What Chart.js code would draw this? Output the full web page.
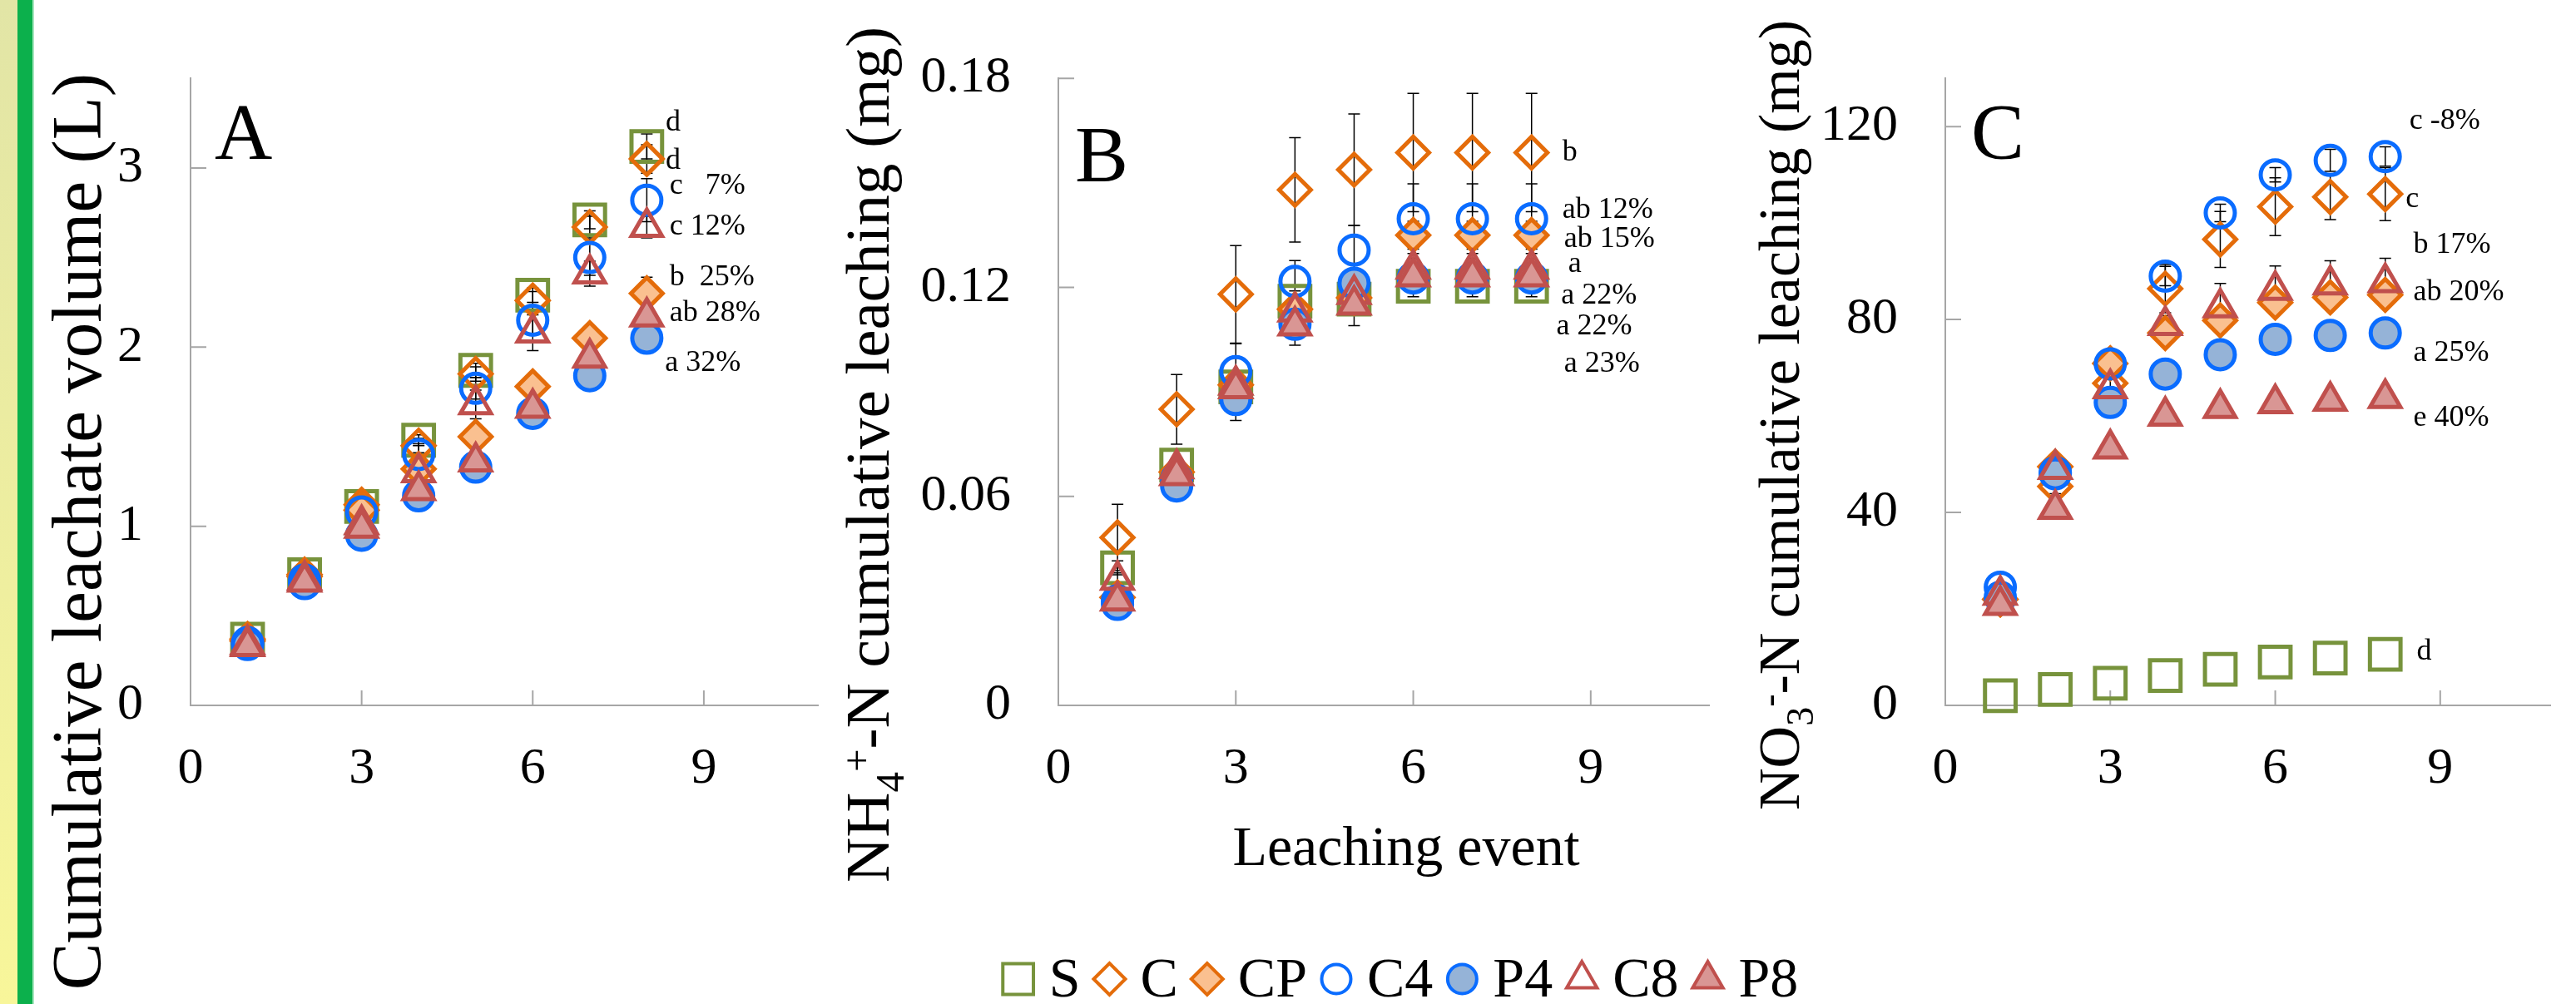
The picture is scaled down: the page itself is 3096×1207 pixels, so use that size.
<!DOCTYPE html>
<html>
<head>
<meta charset="utf-8">
<title>Cumulative leaching</title>
<script src="https://cdn.jsdelivr.net/npm/chart.js@4.4.1/dist/chart.umd.min.js"></script>
<style>
  html, body { margin: 0; padding: 0; background: #fff; }
  #page { position: relative; width: 3096px; height: 1207px; overflow: hidden; background: #fff; }
  .stripe-y { position: absolute; left: 0; top: 0; width: 21px; height: 1207px; background: linear-gradient(#e2e5a6, #f8f69a); }
  .stripe-g { position: absolute; left: 21px; top: 0; width: 18px; height: 1207px; background: #0cb04c; border-right: 2px solid #a8e6bf; }
  canvas { position: absolute; left: 0; top: 0; }
</style>
</head>
<body>
<div id="page">
  <div class="stripe-y"></div>
  <div class="stripe-g"></div>
  <canvas id="chartA" width="3096" height="1207"></canvas>
  <canvas id="chartB" width="3096" height="1207"></canvas>
  <canvas id="chartC" width="3096" height="1207"></canvas>
</div>
<script>
// ---- data ----
const events = [1, 2, 3, 4, 5, 6, 7, 8];
const seriesNames = ['S', 'C', 'CP', 'C4', 'P4', 'C8', 'P8'];
const xTicks = [0, 3, 6, 9];
const xTitle = 'Leaching event';

// A - cumulative leachate volume (L)
const volTicks = [0, 1, 2, 3];
const volS  = [0.37, 0.73, 1.11, 1.48, 1.87, 2.29, 2.71, 3.12];
const volC  = [0.37, 0.73, 1.12, 1.45, 1.85, 2.26, 2.67, 3.05];
const volCP = [0.36, 0.72, 1.09, 1.32, 1.50, 1.78, 2.05, 2.30];
const volC4 = [0.35, 0.70, 1.08, 1.40, 1.77, 2.15, 2.50, 2.82];
const volP4 = [0.34, 0.68, 0.95, 1.17, 1.33, 1.63, 1.84, 2.05];
const volC8 = [0.34, 0.70, 1.01, 1.30, 1.68, 2.08, 2.41, 2.67];
const volP8 = [0.33, 0.69, 0.99, 1.20, 1.36, 1.66, 1.94, 2.17];
const volErrS  = [0, 0, 0, 0.03, 0.04, 0.04, 0.05, 0.07];
const volErrC  = [0, 0, 0, 0.04, 0.04, 0.05, 0.06, 0.08];
const volErrCP = [0.01, 0.01, 0.02, 0.02, 0.03, 0.03, 0.04, 0.09];
const volErrC4 = [0, 0, 0, 0.06, 0.06, 0.08, 0.10, 0.12];
const volErrP4 = [0.01, 0.01, 0.02, 0.02, 0.02, 0.03, 0.03, 0.04];
const volErrC8 = [0, 0, 0, 0.04, 0.08, 0.10, 0.07, 0.06];
const volErrP8 = [0.01, 0.01, 0.02, 0.02, 0.02, 0.03, 0.03, 0.03];
const volNotes = ['d', 'd', 'c   7%', 'c 12%', 'b  25%', 'ab 28%', 'a 32%'];
const volNoteX = [8.33, 8.33, 8.40, 8.40, 8.40, 8.40, 8.32];
const volNoteY = [3.25, 3.04, 2.90, 2.67, 2.39, 2.19, 1.91];

// B - NH4+-N cumulative leaching (mg)
const nhTicks = [0, 0.06, 0.12, 0.18];
const nhS  = [0.0395, 0.069, 0.0914, 0.116, 0.1166, 0.1203, 0.1203, 0.1203];
const nhC  = [0.0482, 0.085, 0.118, 0.148, 0.1538, 0.1587, 0.1587, 0.1587];
const nhCP = [0.031, 0.067, 0.092, 0.1137, 0.117, 0.135, 0.135, 0.135];
const nhC4 = [0.030, 0.065, 0.0958, 0.1217, 0.1307, 0.1397, 0.1397, 0.1397];
const nhP4 = [0.029, 0.063, 0.0878, 0.1094, 0.1212, 0.1227, 0.1227, 0.1227];
const nhC8 = [0.036, 0.068, 0.092, 0.113, 0.118, 0.1253, 0.1253, 0.1253];
const nhP8 = [0.030, 0.066, 0.091, 0.109, 0.115, 0.1231, 0.1231, 0.1231];
const nhErrS  = [0.002, 0.002, 0.002, 0.003, 0.003, 0.003, 0.003, 0.003];
const nhErrC  = [0.0095, 0.010, 0.014, 0.015, 0.016, 0.017, 0.017, 0.017];
const nhErrCP = [0.002, 0.003, 0.003, 0.004, 0.004, 0.004, 0.004, 0.004];
const nhErrC4 = [0.002, 0.003, 0.008, 0.006, 0.007, 0.010, 0.010, 0.010];
const nhErrP4 = [0.002, 0.002, 0.006, 0.006, 0.003, 0.003, 0.003, 0.003];
const nhErrC8 = [0.002, 0.002, 0.003, 0.003, 0.003, 0.003, 0.003, 0.003];
const nhErrP8 = [0.002, 0.002, 0.003, 0.003, 0.006, 0.003, 0.003, 0.003];
const nhNotes = ['b', 'ab 12%', 'ab 15%', 'a', 'a 22%', 'a 22%', 'a 23%'];
const nhNoteX = [8.52, 8.52, 8.55, 8.62, 8.50, 8.42, 8.55];
const nhNoteY = [0.1586, 0.1422, 0.1339, 0.1267, 0.1177, 0.1087, 0.098];

// C - NO3--N cumulative leaching (mg)
const noTicks = [0, 40, 80, 120];
const noS  = [2.0, 3.3, 4.6, 6.2, 7.5, 9.0, 9.8, 10.6];
const noC  = [22.0, 45.4, 66.8, 86.4, 96.6, 103.4, 105.4, 106.0];
const noCP = [22.0, 49.5, 70.9, 77.2, 79.8, 83.5, 84.6, 85.1];
const noC4 = [24.5, 48.3, 70.8, 89.0, 102.1, 110.0, 113.0, 113.8];
const noP4 = [22.4, 48.0, 62.8, 68.7, 72.7, 75.9, 76.7, 77.2];
const noC8 = [22.9, 49.0, 65.7, 78.8, 82.5, 86.1, 87.2, 87.7];
const noP8 = [20.8, 40.7, 53.2, 60.0, 61.6, 62.6, 63.1, 63.7];
const noErrS  = [0, 0, 0, 0, 0, 0, 0, 0];
const noErrC  = [0, 1.5, 2.0, 5.0, 5.8, 6.0, 4.7, 5.5];
const noErrCP = [0.8, 1.0, 1.5, 2.0, 2.0, 2.0, 2.0, 2.0];
const noErrC4 = [0, 0, 0, 2.0, 1.8, 1.5, 2.3, 2.0];
const noErrP4 = [0.8, 1.0, 1.0, 1.0, 1.5, 1.0, 1.0, 1.0];
const noErrC8 = [0, 0, 0, 2.0, 5.0, 5.0, 5.0, 5.0];
const noErrP8 = [0.5, 0.5, 0.8, 1.0, 1.0, 1.0, 1.0, 1.0];
const noNotes = ['c -8%', 'c', 'b 17%', 'ab 20%', 'a 25%', 'e 40%', 'd'];
const noNoteX = [8.44, 8.37, 8.51, 8.51, 8.51, 8.51, 8.57];
const noNoteY = [121.2, 105, 95.5, 85.7, 73.1, 59.5, 11.2];

// ---- styling ----
const FONT = '"Liberation Serif", "Times New Roman", serif';
const AXIS = '#a6a6a6';
Chart.defaults.font.family = FONT;
Chart.defaults.color = '#000';

const NONE = 'rgba(0,0,0,0)';
const styles = {
  S:  { pointStyle: 'rect',     radius: 26,   border: '#77933c', fill: NONE },
  C:  { pointStyle: 'rectRot',  radius: 19,   border: '#e46c0a', fill: NONE },
  CP: { pointStyle: 'rectRot',  radius: 19,   border: '#e46c0a', fill: '#fac090' },
  C4: { pointStyle: 'circle',   radius: 17.5, border: '#0a6cff', fill: NONE },
  P4: { pointStyle: 'circle',   radius: 17.5, border: '#0a6cff', fill: '#95b3d7' },
  C8: { pointStyle: 'triangle', radius: 21,   border: '#c0504d', fill: NONE },
  P8: { pointStyle: 'triangle', radius: 21,   border: '#c0504d', fill: '#d99694' }
};

function buildDatasets(values, errors) {
  return seriesNames.map((name, i) => {
    const st = styles[name];
    return {
      label: name,
      data: events.map((e, k) => ({ x: e, y: values[i][k] })),
      errors: errors[i],
      pointStyle: st.pointStyle,
      pointRadius: st.radius,
      pointHoverRadius: st.radius,
      pointBorderWidth: 5,
      pointBorderColor: st.border,
      pointBackgroundColor: st.fill,
      showLine: false,
      clip: false,
      // later series are painted on top, as in the original
      order: seriesNames.length - i
    };
  });
}

// rotated y-axis title, with optional sub/superscript pieces
function drawVertical(ctx, parts, baseX, endY, size) {
  const small = Math.round(size * 0.65);
  const fontOf = s => ((s.sub || s.sup) ? small : size) + 'px ' + FONT;
  let total = 0;
  const widths = parts.map(s => {
    ctx.font = fontOf(s);
    const w = ctx.measureText(s.t).width;
    total += w;
    return w;
  });
  ctx.save();
  ctx.translate(baseX, endY);
  ctx.rotate(-Math.PI / 2);
  ctx.textAlign = 'left';
  ctx.textBaseline = 'alphabetic';
  ctx.fillStyle = '#000';
  let pos = -total;
  parts.forEach((s, i) => {
    ctx.font = fontOf(s);
    const dy = s.sub ? size * 0.24 : (s.sup ? -size * 0.3 : 0);
    ctx.fillText(s.t, pos, dy);
    pos += widths[i];
  });
  ctx.restore();
}

// shared x title and legend (drawn once, by the middle panel)
function drawShared(chart) {
  const ctx = chart.ctx;
  ctx.save();
  ctx.fillStyle = '#000';
  ctx.font = '68px ' + FONT;
  ctx.textAlign = 'center';
  ctx.textBaseline = 'alphabetic';
  ctx.fillText(xTitle, 1690, 1040);

  ctx.textAlign = 'left';
  const mark = 42, gapText = 16, gapItem = 14;
  const widths = seriesNames.map(n => ctx.measureText(n).width);
  const total = widths.reduce((s, w) => s + mark + gapText + w, 0) + gapItem * (seriesNames.length - 1);
  let xPos = 1682 - total / 2;
  seriesNames.forEach((n, i) => {
    const st = styles[n];
    ctx.fillStyle = st.fill;
    ctx.strokeStyle = st.border;
    ctx.lineWidth = 4;
    Chart.helpers.drawPoint(ctx, { pointStyle: st.pointStyle, radius: st.radius, borderWidth: 4, rotation: 0 }, xPos + mark / 2, 1177);
    ctx.fillStyle = '#000';
    ctx.fillText(n, xPos + mark + gapText, 1198);
    xPos += mark + gapText + widths[i] + gapItem;
  });
  ctx.restore();
}

function decorPlugin(p) {
  return {
    id: 'decor' + p.letter,
    beforeDatasetsDraw(chart) {
      const { ctx, chartArea: a, scales: { x, y } } = chart;
      ctx.save();
      // tick marks point inwards
      ctx.strokeStyle = AXIS;
      ctx.lineWidth = 2;
      ctx.beginPath();
      y.ticks.forEach(t => {
        const py = y.getPixelForValue(t.value);
        ctx.moveTo(a.left, py);
        ctx.lineTo(a.left + 19, py);
      });
      x.ticks.forEach(t => {
        const px = x.getPixelForValue(t.value);
        ctx.moveTo(px, a.bottom);
        ctx.lineTo(px, a.bottom - 18);
      });
      ctx.stroke();
      // error bars sit under the markers
      ctx.strokeStyle = '#000';
      ctx.lineWidth = 1.5;
      chart.data.datasets.forEach((ds, i) => {
        chart.getDatasetMeta(i).data.forEach((pt, k) => {
          const e = ds.errors[k];
          if (!e) return;
          const v = ds.data[k].y;
          const y1 = y.getPixelForValue(v + e);
          const y2 = y.getPixelForValue(v - e);
          ctx.beginPath();
          ctx.moveTo(pt.x, y1); ctx.lineTo(pt.x, y2);
          ctx.moveTo(pt.x - 7, y1); ctx.lineTo(pt.x + 7, y1);
          ctx.moveTo(pt.x - 7, y2); ctx.lineTo(pt.x + 7, y2);
          ctx.stroke();
        });
      });
      ctx.restore();
    },
    afterDatasetsDraw(chart) {
      const { ctx, chartArea: a, scales: { x, y } } = chart;
      ctx.save();
      // significance letters
      ctx.fillStyle = '#000';
      ctx.font = '36px ' + FONT;
      ctx.textAlign = 'left';
      ctx.textBaseline = 'middle';
      p.notes.forEach((t, i) => {
        ctx.fillText(t, x.getPixelForValue(p.noteX[i]), y.getPixelForValue(p.noteY[i]));
      });
      // panel letter
      ctx.font = '96px ' + FONT;
      ctx.textBaseline = 'alphabetic';
      ctx.fillText(p.letter, a.left + p.letterDx, a.top + p.letterDy);
      ctx.restore();

      drawVertical(ctx, p.title, p.titleBase, p.titleEnd, p.titleSize);
      if (p.shared) drawShared(chart);
    }
  };
}

function makePanel(id, p) {
  return new Chart(document.getElementById(id), {
    type: 'scatter',
    data: { datasets: buildDatasets(p.values, p.errors) },
    options: {
      responsive: false,
      animation: false,
      events: [],
      layout: { padding: { left: 0, right: 3096 - p.right, top: p.top, bottom: 0 } },
      plugins: { legend: { display: false }, tooltip: { enabled: false } },
      scales: {
        x: {
          type: 'linear',
          min: 0,
          max: 11,
          afterBuildTicks: s => { s.ticks = xTicks.map(v => ({ value: v })); },
          afterFit: s => { s.height = 1207 - 848; },
          grid: { display: false, drawTicks: false },
          border: { display: true, color: AXIS, width: 2 },
          ticks: { color: '#000', font: { size: 62 }, padding: 40, maxRotation: 0, autoSkip: false }
        },
        y: {
          type: 'linear',
          min: 0,
          max: p.yMax,
          afterBuildTicks: s => { s.ticks = p.yTicks.map(v => ({ value: v })); },
          afterFit: s => { s.width = p.left; },
          grid: { display: false, drawTicks: false },
          border: { display: true, color: AXIS, width: 2 },
          ticks: { color: '#000', font: { size: 62 }, padding: 57, callback: v => String(v) }
        }
      }
    },
    plugins: [decorPlugin(p)]
  });
}

makePanel('chartA', {
  letter: 'A', left: 229, right: 983, top: 93, yMax: 3.5, yTicks: volTicks,
  values: [volS, volC, volCP, volC4, volP4, volC8, volP8],
  errors: [volErrS, volErrC, volErrCP, volErrC4, volErrP4, volErrC8, volErrP8],
  notes: volNotes, noteX: volNoteX, noteY: volNoteY,
  letterDx: 29, letterDy: 97,
  title: [{ t: 'Cumulative leachate volume (L)' }],
  titleBase: 121, titleEnd: 88, titleSize: 85
});

makePanel('chartB', {
  letter: 'B', left: 1272, right: 2054, top: 91, yMax: 0.18, yTicks: nhTicks,
  values: [nhS, nhC, nhCP, nhC4, nhP4, nhC8, nhP8],
  errors: [nhErrS, nhErrC, nhErrCP, nhErrC4, nhErrP4, nhErrC8, nhErrP8],
  notes: nhNotes, noteX: nhNoteX, noteY: nhNoteY,
  letterDx: 20, letterDy: 124,
  title: [{ t: 'NH' }, { t: '4', sub: true }, { t: '+', sup: true }, { t: '-N cumulative leaching (mg)' }],
  titleBase: 1068, titleEnd: 32, titleSize: 75,
  shared: true
});

makePanel('chartC', {
  letter: 'C', left: 2338, right: 3077, top: 94, yMax: 130, yTicks: noTicks,
  values: [noS, noC, noCP, noC4, noP4, noC8, noP8],
  errors: [noErrS, noErrC, noErrCP, noErrC4, noErrP4, noErrC8, noErrP8],
  notes: noNotes, noteX: noNoteX, noteY: noNoteY,
  letterDx: 31, letterDy: 97,
  title: [{ t: 'NO' }, { t: '3', sub: true }, { t: '-', sup: true }, { t: '-N cumulative leaching (mg)' }],
  titleBase: 2162, titleEnd: 24, titleSize: 70
});
</script>
</body>
</html>
